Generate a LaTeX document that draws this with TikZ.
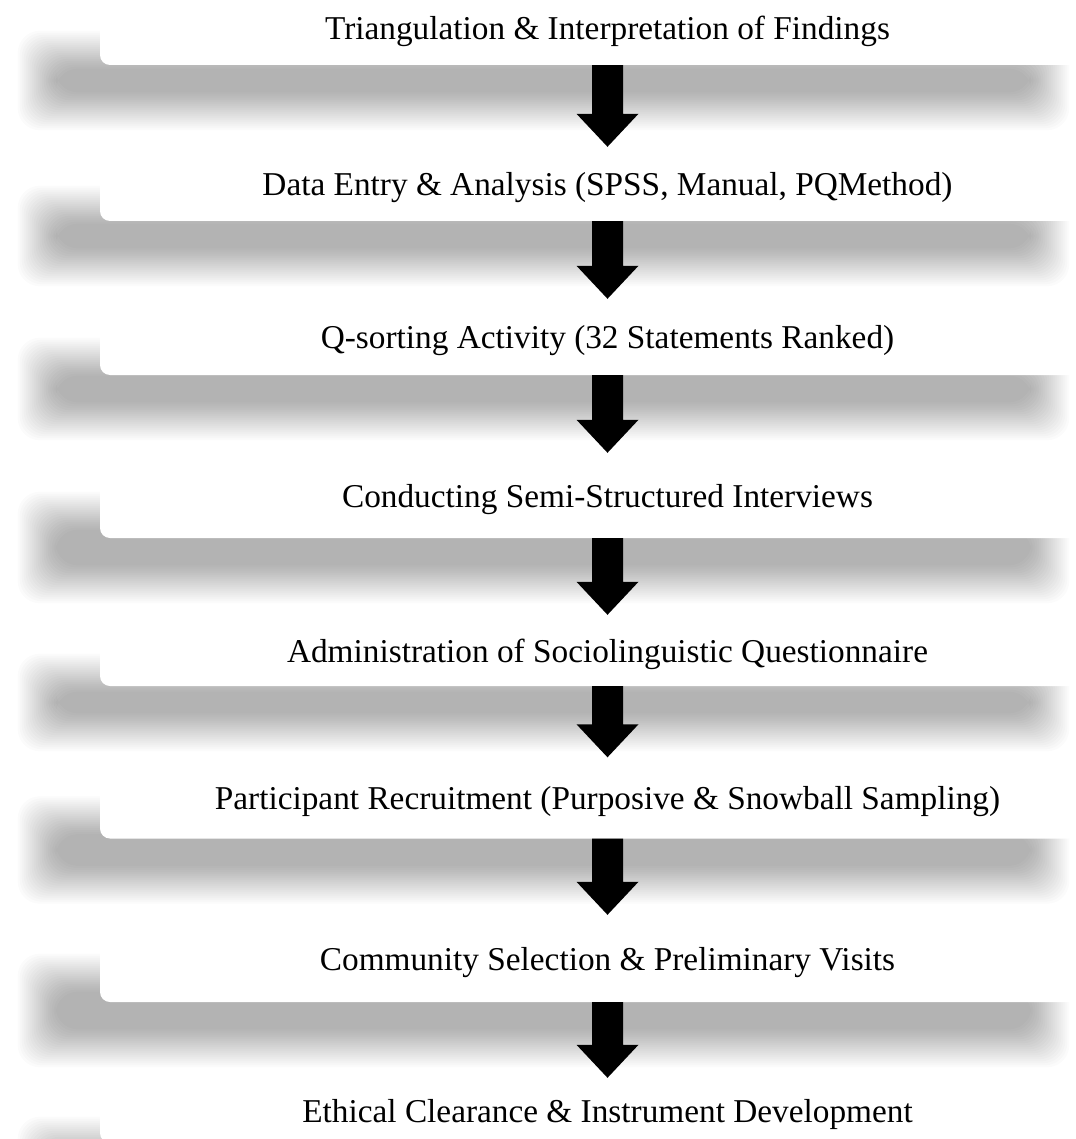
\documentclass[tikz,border=0pt]{standalone}
\usepackage{fontspec}
\setmainfont{Liberation Serif}
\usetikzlibrary{calc}
\pgfdeclarelayer{bg}
\pgfsetlayers{bg,main}
\tikzset{
  stepbox/.style={fill=white, rounded corners=10pt, minimum width=1015pt, inner sep=0pt,
    font=\fontsize{33.3}{36}\selectfont, text height=23pt, text depth=0pt, anchor=center},
  blockarrow/.style={fill=black},
  blurlayer/.style={fill=black, fill opacity=0.0173, rounded corners=22pt}
}
\newcommand\flowarrow[2]{%
  \fill[blockarrow] ($(#1.south)+(-15.5,0)$) -- ($(#2.north)+(-15.5,-33)$) -- ($(#2.north)+(-31,-33)$)
    -- (#2.north) -- ($(#2.north)+(31,-33)$) -- ($(#2.north)+(15.5,-33)$) -- ($(#1.south)+(15.5,0)$) -- cycle;}
\begin{document}
\begin{tikzpicture}[x=1pt,y=-1pt]
\useasboundingbox (0,0) rectangle (1075,1139);
\node[stepbox, minimum height=73pt] (b1) at (607.5,28.5) {Triangulation \& Interpretation of Findings};
\node[stepbox, minimum height=74pt] (b2) at (607.5,184) {Data Entry \& Analysis (SPSS, Manual, PQMethod)};
\node[stepbox, minimum height=76pt] (b3) at (607.5,337) {Q-sorting Activity (32 Statements Ranked)};
\node[stepbox, minimum height=85pt] (b4) at (607.5,495.5) {Conducting Semi-Structured Interviews};
\node[stepbox, minimum height=71pt] (b5) at (607.5,650.5) {Administration of Sociolinguistic Questionnaire};
\node[stepbox, minimum height=81pt] (b6) at (607.5,798) {Participant Recruitment (Purposive \& Snowball Sampling)};
\node[stepbox, minimum height=87pt] (b7) at (607.5,958.5) {Community Selection \& Preliminary Visits};
\node[stepbox, minimum height=65pt] (b8) at (607.5,1110.5) {Ethical Clearance \& Instrument Development};
\begin{pgfonlayer}{bg}
  \fill[white] (0,0) rectangle (1075,1139);
  \foreach \n in {b1,b2,b3,b4,b5,b6,b7,b8}{
    \foreach \k in {0,...,19}{
      \pgfmathsetmacro\dd{-20+40*(\k+0.5)/20}
      \fill[blurlayer] ($(\n.north west)+(-63+\dd,58+\dd)$) rectangle ($(\n.south east)+(-65-\dd,46-\dd)$);
    }
  }
\end{pgfonlayer}
\flowarrow{b1}{b2}
\flowarrow{b2}{b3}
\flowarrow{b3}{b4}
\flowarrow{b4}{b5}
\flowarrow{b5}{b6}
\flowarrow{b6}{b7}
\flowarrow{b7}{b8}
\end{tikzpicture}
\end{document}
